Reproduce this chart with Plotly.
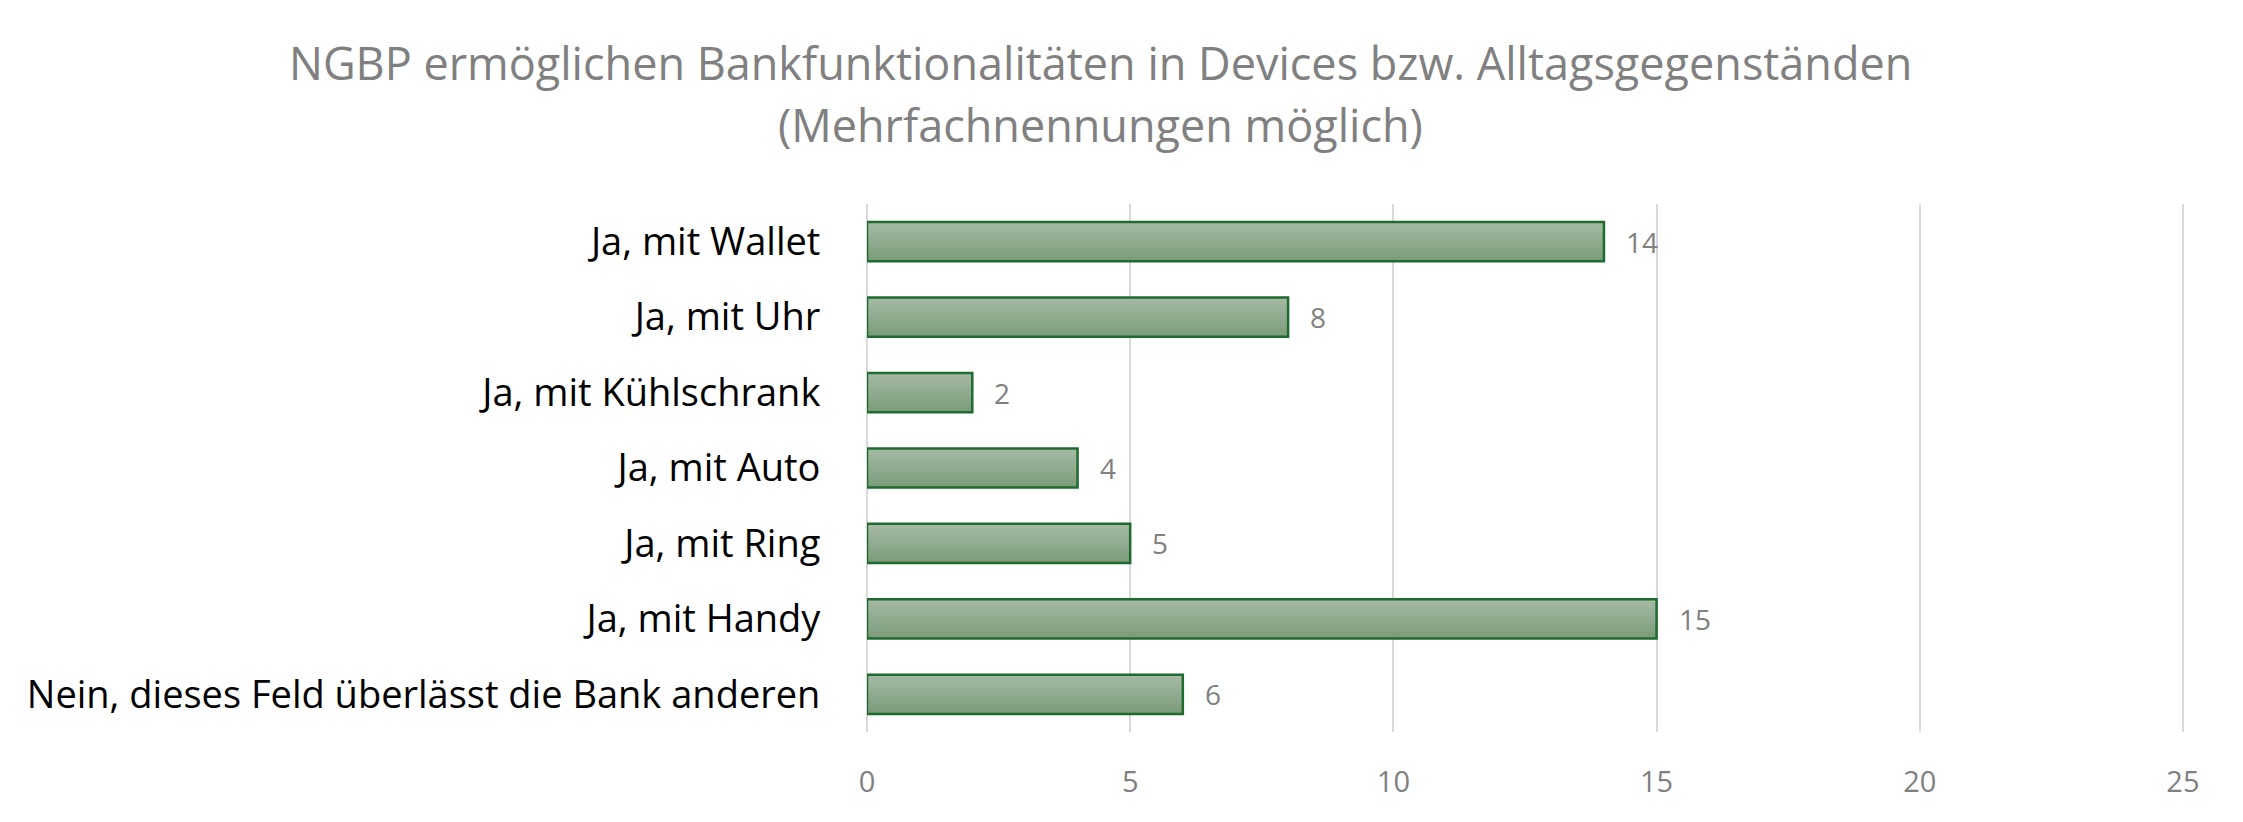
import plotly.graph_objects as go

categories = [
    "Ja, mit Wallet",
    "Ja, mit Uhr",
    "Ja, mit Kühlschrank",
    "Ja, mit Auto",
    "Ja, mit Ring",
    "Ja, mit Handy",
    "Nein, dieses Feld überlässt die Bank anderen",
]
values = [14, 8, 2, 4, 5, 15, 6]
x_ticks = [0, 5, 10, 15, 20, 25]

title_lines = [
    "NGBP ermöglichen Bankfunktionalitäten in Devices bzw. Alltagsgegenständen",
    "(Mehrfachnennungen möglich)",
]

FONT = "Open Sans"
GRAY = "#808080"
TOP_RGB = (163, 185, 161)
BOT_RGB = (125, 156, 124)
BAR_W = 0.52
N_SLICES = 12

# page has an 8px default body margin: size the figure to fit in the window
W, H = 2235, 814
L, R, T, B = 859, 59, 196, 90

fig = go.Figure()

# vertical gradient fill (top light -> bottom dark): each layer runs from its
# start down to the bar's bottom edge, later (darker) layers drawn on top
for k in range(N_SLICES):
    f = k / (N_SLICES - 1)
    rgb = tuple(round(a + (b - a) * f) for a, b in zip(TOP_RGB, BOT_RGB))
    start = k * BAR_W / N_SLICES
    fig.add_trace(go.Bar(
        y=categories, x=values, orientation="h",
        width=BAR_W - start, offset=-BAR_W / 2 + start,
        marker=dict(color="rgb(%d,%d,%d)" % rgb, line=dict(width=0)),
        hoverinfo="skip",
    ))

# outline
fig.add_trace(go.Bar(
    y=categories, x=values, orientation="h",
    width=BAR_W,
    marker=dict(color="rgba(0,0,0,0)", line=dict(color="#1e6b30", width=2.5)),
    hoverinfo="x+y",
))

for c, v in zip(categories, values):
    fig.add_annotation(
        x=v, y=c, xref="x", yref="y", text=str(v), showarrow=False,
        xanchor="left", yanchor="middle", xshift=20,
        font=dict(family=FONT, size=28, color=GRAY),
    )

for i, line in enumerate(title_lines):
    fig.add_annotation(
        x=(1092 - L) / (W - L - R), y=(H - B - (55 + 62 * i)) / (H - T - B),
        xref="paper", yref="paper", text=line, showarrow=False,
        xanchor="center", yanchor="middle",
        font=dict(family=FONT, size=45, color=GRAY),
    )

fig.update_layout(
    width=W, height=H,
    barmode="overlay",
    paper_bgcolor="white", plot_bgcolor="white",
    margin=dict(l=L, r=R, t=T, b=B, autoexpand=False),
    showlegend=False,
    xaxis=dict(
        range=[0, 25.02], tickvals=x_ticks, showgrid=True, gridcolor="#d9d9d9", gridwidth=2,
        zeroline=True, zerolinecolor="#d9d9d9", zerolinewidth=2, showline=False,
        ticks="outside", ticklen=24, tickcolor="rgba(0,0,0,0)", automargin=False,
        tickfont=dict(family=FONT, size=29, color=GRAY), fixedrange=True,
    ),
    yaxis=dict(
        autorange="reversed", showgrid=False, zeroline=False, showline=False,
        ticks="outside", ticklen=38, tickcolor="rgba(0,0,0,0)", automargin=False,
        tickfont=dict(family=FONT, size=38, color="black"),
    ),
)

fig.write_html("out.html")
